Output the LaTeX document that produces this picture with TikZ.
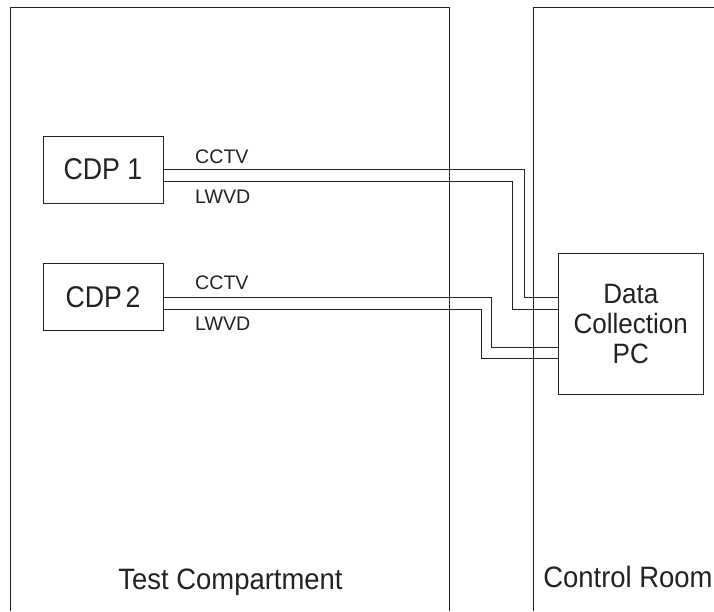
\documentclass[tikz,border=0pt]{standalone}
\usepackage{fontspec}
\setmainfont{Liberation Sans}
\newfontfamily\narrowsans{Liberation Sans}[FakeStretch=0.89]
\newfontfamily\roomsans{Liberation Sans}[FakeStretch=0.93]
\usetikzlibrary{positioning, calc}
\definecolor{inkGray}{RGB}{34,34,34}

\begin{document}
\begin{tikzpicture}[x=1pt, y=-1pt,
    devbox/.style={draw=inkGray, line width=0.8pt, inner sep=0pt, text=inkGray, font=\narrowsans\fontsize{30}{34}\selectfont},
    wire/.style={draw=inkGray, line width=0.8pt},
    wirelbl/.style={font=\fontsize{19.6}{24}\selectfont, text=inkGray, anchor=west, inner sep=0pt},
    roomlbl/.style={font=\roomsans\fontsize{29.5}{34}\selectfont, text=inkGray, inner sep=0pt, anchor=base}]
    \useasboundingbox (0,0) rectangle (714,611);
    % rooms
    \draw[wire] (10,611) -- (10,7) -- (449,7) -- (449,611);
    \draw[wire] (533,611) -- (533,7) -- (714,7);
    \node[roomlbl] (testlbl) at (230.5,589) {Test Compartment};
    \node[roomlbl] (ctrllbl) at (628,587.5) {Control Room};
    % devices
    \node[devbox, minimum width=120pt, minimum height=67pt] (cdp1) at (103,169.5) {CDP 1};
    \node[devbox, minimum width=120pt, minimum height=67pt, below=60pt of cdp1] (cdp2) {\spaceskip=0.12em CDP 2};
    \node[devbox, minimum width=145pt, minimum height=141pt, align=center,
          font=\roomsans\fontsize{28}{30}\selectfont] (pc) at (630.8,323.8) {Data\\Collection\\PC};
    % cables
    \coordinate (bend1) at (524,297);
    \coordinate (bend2) at (512,309);
    \coordinate (bend3) at (491.7,347.3);
    \coordinate (bend4) at (481.3,358);
    \draw[wire] (cdp1.east) -| (bend1) -- (bend1 -| pc.west);
    \draw[wire] ($(cdp1.east)+(0,12)$) -| (bend2) -- (bend2 -| pc.west);
    \draw[wire] (cdp2.east) -| (bend3) -- (bend3 -| pc.west);
    \draw[wire] ($(cdp2.east)+(0,12)$) -| (bend4) -- (bend4 -| pc.west);
    \node[wirelbl] (cctv1) at (195,156.5) {CCTV};
    \node[wirelbl] (lwvd1) at (195,197) {LWVD};
    \node[wirelbl] (cctv2) at (195,282.5) {CCTV};
    \node[wirelbl] (lwvd2) at (195,324) {LWVD};
\end{tikzpicture}
\end{document}
